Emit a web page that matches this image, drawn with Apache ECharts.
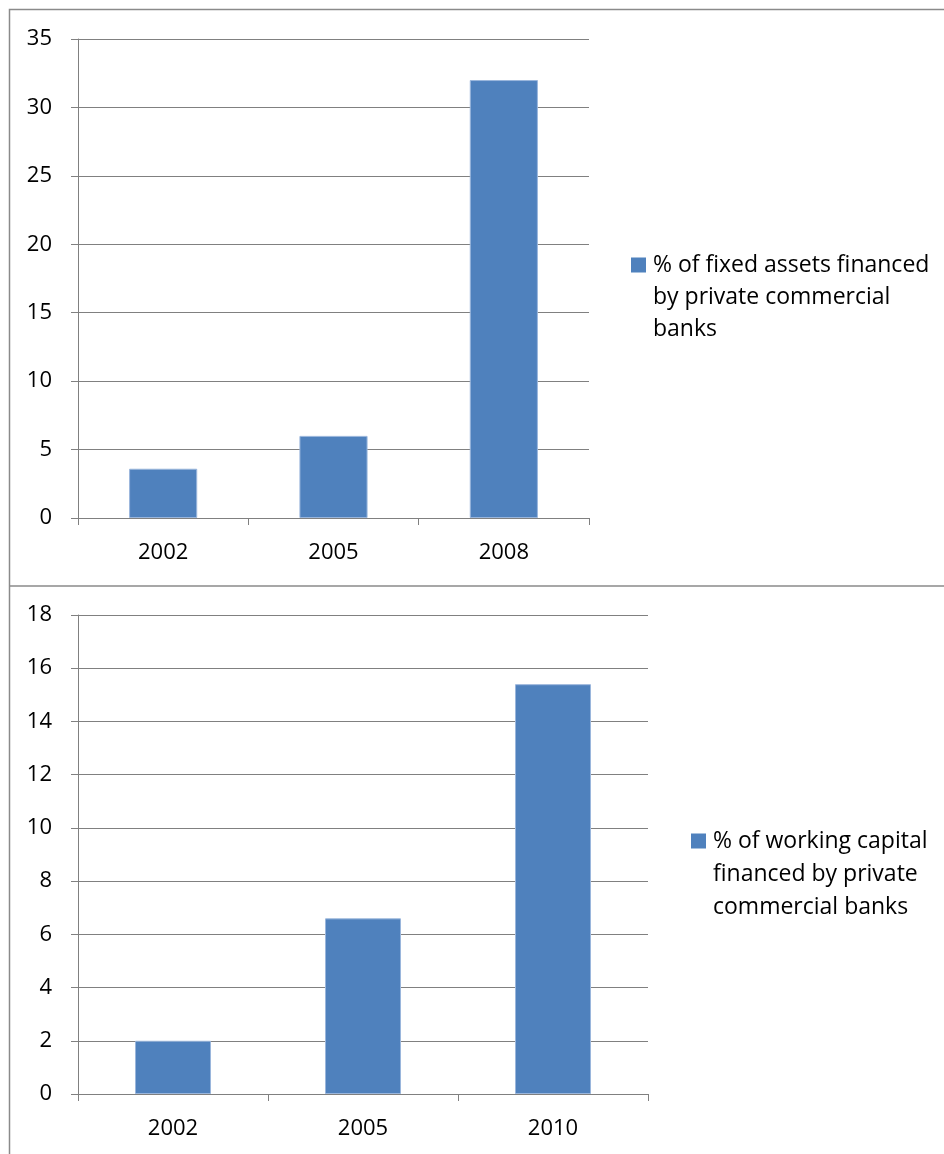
<!DOCTYPE html>
<html>
<head>
<meta charset="utf-8">
<script src="https://cdn.jsdelivr.net/npm/echarts@6/dist/echarts.min.js"></script>
<style>
  html, body { margin: 0; padding: 0; background: #ffffff; }
  #chart { width: 944px; height: 1154px; }
</style>
</head>
<body>
<div id="chart"></div>
<script>
// Upper panel: fixed assets
const fixedYears = ['2002', '2005', '2008'];
const fixedAssetsPct = [3.6, 6.0, 32];
const fixedName = '% of fixed assets financed by private commercial banks';
const fixedLegendLines = ['% of fixed assets financed', 'by private commercial', 'banks'];

// Lower panel: working capital
const workingYears = ['2002', '2005', '2010'];
const workingCapitalPct = [2.0, 6.6, 15.4];
const workingName = '% of working capital financed by private commercial banks';
const workingLegendLines = ['% of working capital', 'financed by private', 'commercial banks'];

const FONT = '"Open Sans", "Liberation Sans", sans-serif';
const AXIS_GREY = '#808080';
const BAR_BLUE = '#4f81bd';
const FRAME = '#8a8a8a';

function valueAxis(gridIndex, max, interval) {
  return {
    type: 'value', gridIndex: gridIndex, min: 0, max: max, interval: interval,
    axisLine: { show: true, lineStyle: { color: AXIS_GREY, width: 1 } },
    axisTick: { show: true, length: 7, lineStyle: { color: AXIS_GREY, width: 1 } },
    splitLine: { show: true, lineStyle: { color: AXIS_GREY, width: 1 } },
    axisLabel: { margin: 26, color: '#000', fontFamily: FONT, fontSize: 22 }
  };
}

function categoryAxis(gridIndex, data) {
  return {
    type: 'category', gridIndex: gridIndex, data: data,
    axisLine: { show: true, lineStyle: { color: AXIS_GREY, width: 1 } },
    axisTick: { show: true, length: 7, alignWithLabel: false, lineStyle: { color: AXIS_GREY, width: 1 } },
    axisLabel: { margin: 24, color: '#000', fontFamily: FONT, fontSize: 22 }
  };
}

function barSeries(name, axisIndex, data) {
  return {
    name: name, type: 'bar', xAxisIndex: axisIndex, yAxisIndex: axisIndex,
    data: data, barCategoryGap: '60%',
    itemStyle: { color: BAR_BLUE, borderColor: '#9ab6dc', borderWidth: 1 },
    emphasis: { disabled: true }
  };
}

// Legend key: a 15px square level with the first text line. The icon box is
// as tall as the wrapped text, so the square sits at the top of that box.
function legendIcon(lineHeight, lineCount) {
  const h = lineHeight * lineCount;
  const y0 = lineHeight / 2 - 7.5;
  const y1 = lineHeight / 2 + 7.5;
  return 'path://M0,0L17,0L0,0Z' +
    'M0,' + y0 + 'L15,' + y0 + 'L15,' + y1 + 'L0,' + y1 + 'Z' +
    'M0,' + h + 'L17,' + h + 'L0,' + h + 'Z';
}

function legendBlock(name, lines, left, top, lineHeight) {
  return {
    show: true, data: [name], left: left, top: top, padding: 0,
    itemWidth: 17, itemHeight: lineHeight * lines.length,
    icon: legendIcon(lineHeight, lines.length),
    itemStyle: { borderWidth: 0 },
    formatter: function () { return lines.join('\n'); },
    textStyle: { color: '#000', fontFamily: FONT, fontSize: 23, lineHeight: lineHeight }
  };
}

const chart = echarts.init(document.getElementById('chart'), null, { renderer: 'canvas' });

chart.setOption({
  animation: false,
  backgroundColor: '#ffffff',
  grid: [
    { left: 78, top: 39, width: 511, height: 479 },
    { left: 78, top: 615, width: 570, height: 479 }
  ],
  xAxis: [categoryAxis(0, fixedYears), categoryAxis(1, workingYears)],
  yAxis: [valueAxis(0, 35, 5), valueAxis(1, 18, 2)],
  legend: [
    legendBlock(fixedName, fixedLegendLines, 631, 249, 32),
    legendBlock(workingName, workingLegendLines, 691, 824.5, 33)
  ],
  series: [
    barSeries(fixedName, 0, fixedAssetsPct),
    barSeries(workingName, 1, workingCapitalPct)
  ],
  graphic: [
    { type: 'polyline', shape: { points: [[9.5, 586], [9.5, 9.5], [944, 9.5]] },
      style: { stroke: FRAME, lineWidth: 1.5, fill: null }, silent: true },
    { type: 'line', shape: { x1: 9, y1: 586, x2: 944, y2: 586 },
      style: { stroke: FRAME, lineWidth: 1.5 }, silent: true },
    { type: 'line', shape: { x1: 9.5, y1: 586, x2: 9.5, y2: 1154 },
      style: { stroke: FRAME, lineWidth: 1.5 }, silent: true }
  ]
});
</script>
</body>
</html>
